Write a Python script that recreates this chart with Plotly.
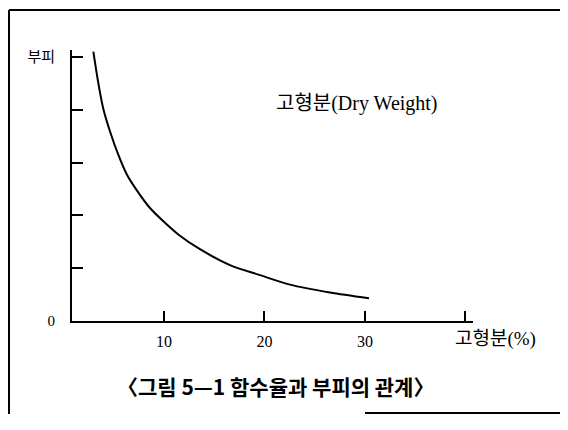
import plotly.graph_objects as go

# Data
solid_pct = [2.97, 3.46, 3.96, 4.63, 5.45, 6.29, 7.28, 8.61, 10.10, 11.42, 13.58, 16.57, 19.55, 22.54, 26.52, 30.40]
volume = [5.10, 4.51, 4.02, 3.59, 3.15, 2.78, 2.48, 2.14, 1.86, 1.64, 1.36, 1.06, 0.87, 0.69, 0.54, 0.43]
x_ticks = [10, 20, 30, 40]
x_tick_labels = ["10", "20", "30", ""]
y_ticks = [0, 1, 2, 3, 4, 5]
y_tick_labels = ["0", "", "", "", "", "부피"]

# The page body keeps its default 8px margin on every side, so the figure is
# sized to make the whole page exactly 568x430; positions below are page pixels.
OFF = 8
W, H = 568 - OFF, 430 - 2 * OFF
SERIF = "Liberation Serif, Noto Sans CJK KR, serif"
SANS = "Noto Sans CJK KR, sans-serif"


def px(x):
    return (x - OFF) / W


def py(y):
    return 1 - (y - OFF) / H


fig = go.Figure()
fig.add_trace(go.Scatter(
    x=solid_pct, y=volume, mode="lines",
    line=dict(color="black", width=2, shape="spline", smoothing=0.8),
    hoverinfo="skip", showlegend=False,
))

fig.update_layout(
    width=W, height=H,
    margin=dict(l=0, r=0, t=0, b=0, pad=0),
    paper_bgcolor="white", plot_bgcolor="white",
    showlegend=False,
    xaxis=dict(
        domain=[px(72), px(473)],
        range=[0.846, 40.75],
        showgrid=False, zeroline=False,
        showline=True, linecolor="black", linewidth=2,
        ticks="inside", ticklen=10, tickwidth=2, tickcolor="black",
        tickvals=x_ticks, ticktext=x_tick_labels,
        tickfont=dict(family=SERIF, size=16, color="black"),
        ticklabelstandoff=5,
        fixedrange=True,
    ),
    yaxis=dict(
        domain=[py(327), py(50)],
        range=[0, 5.13],
        showgrid=False, zeroline=False,
        showline=True, linecolor="black", linewidth=2,
        ticks="inside", ticklen=11, tickwidth=2, tickcolor="black",
        tickvals=y_ticks, ticktext=y_tick_labels,
        tickfont=dict(family=SERIF, size=15, color="black"),
        ticklabelstandoff=12,
        fixedrange=True,
    ),
    shapes=[
        dict(type="line", xref="paper", yref="paper", x0=1 / W, x1=1 / W, y0=0, y1=1 - 1 / H,
             line=dict(color="black", width=2)),
        dict(type="line", xref="paper", yref="paper", x0=1 / W, x1=1, y0=1 - 1 / H, y1=1 - 1 / H,
             line=dict(color="black", width=2)),
        dict(type="line", xref="paper", yref="paper", x0=px(365), x1=1, y0=py(421), y1=py(421),
             line=dict(color="black", width=2)),
    ],
    annotations=[
        dict(text="고형분(Dry Weight)", xref="paper", yref="paper",
             x=px(274), y=py(105), xanchor="left", yanchor="middle",
             showarrow=False, font=dict(family=SERIF, size=20, color="black")),
        dict(text="고형분(%)", xref="paper", yref="paper",
             x=px(453), y=py(345), xanchor="left", yanchor="middle",
             showarrow=False, font=dict(family=SERIF, size=19, color="black")),
        dict(text="<b>〈그림 5—1 함수율과 부피의 관계〉</b>", xref="paper", yref="paper",
             x=px(115), y=py(393), xanchor="left", yanchor="middle",
             showarrow=False, font=dict(family=SANS, size=21, color="black")),
    ],
)

fig.write_html("out.html", config={"displayModeBar": False})
